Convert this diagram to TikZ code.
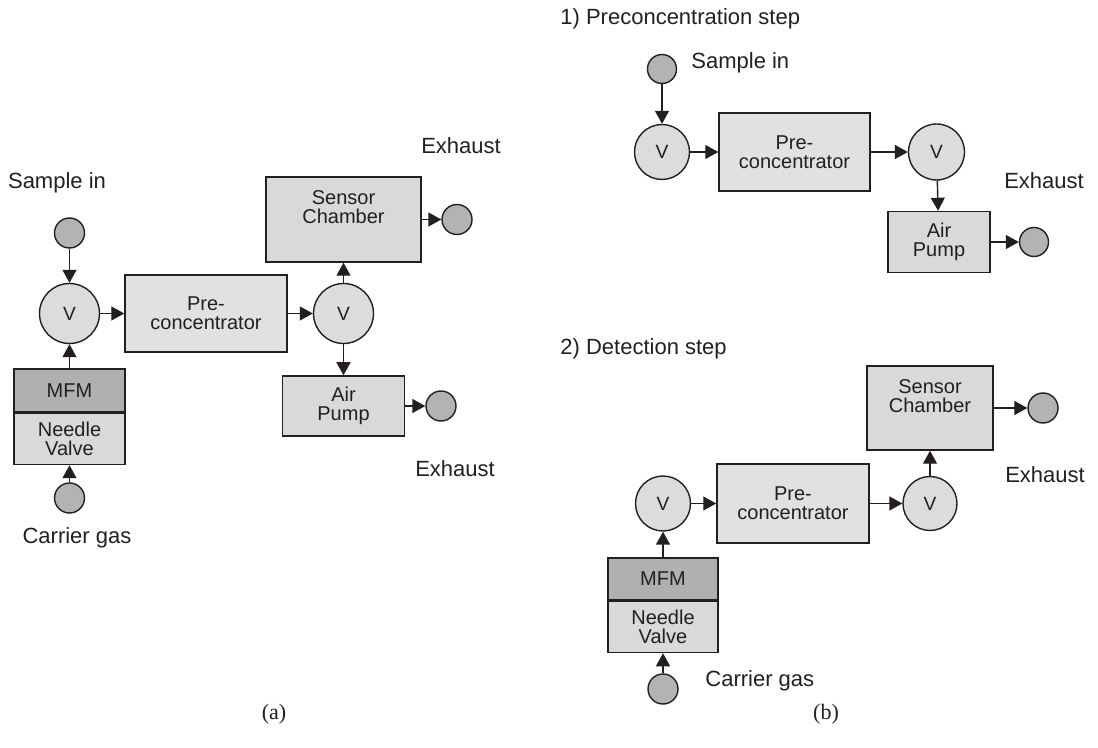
\documentclass[tikz,border=0pt]{standalone}
\usepackage{fontspec}
\setmainfont{Liberation Sans}
\newfontfamily\capfont{Liberation Serif}
\usepackage{tikz}
\usetikzlibrary{arrows.meta}

\definecolor{inkgray}{HTML}{231F20}
\definecolor{lightbox}{HTML}{E1E1E1}
\definecolor{unitbox}{HTML}{D9D9D9}
\definecolor{mfmgray}{HTML}{B0B0B0}
\definecolor{portgray}{HTML}{B3B3B3}
\definecolor{valvegray}{HTML}{DCDCDC}

\tikzset{
	box/.style={draw=inkgray, line width=0.75pt, fill=lightbox, align=center, inner sep=0pt, text=inkgray, font=\fontsize{10}{9.4}\selectfont},
	unit/.style={box, fill=unitbox},
	mfmbox/.style={box, fill=mfmgray},
	valve/.style={circle, draw=inkgray, line width=0.7pt, fill=valvegray, inner sep=0pt, minimum size=30pt, text=inkgray, font=\fontsize{9.6}{10}\selectfont},
	port/.style={circle, draw=inkgray, line width=0.7pt, fill=portgray, inner sep=0pt, minimum size=15pt},
	flow/.style={-{Triangle[length=6.5pt,width=7pt]}, draw=inkgray, line width=0.7pt},
	lbl/.style={text=inkgray, inner sep=0pt, font=\fontsize{11}{13}\selectfont}
}

\begin{document}
\begin{tikzpicture}[x=0.5pt, y=-0.5pt]
	\useasboundingbox (0,0) rectangle (1098,748);
	% (a) combined set-up
	\node[port] (sin1) at (69.5,233) {};
	\node[valve] (v1) at (69.5,313.5) {V};
	\node[box, minimum width=81pt, minimum height=38.5pt] (pre1) at (206,313.5) {Pre-\\concentrator};
	\node[valve] (v2) at (343.5,313.5) {V};
	\node[unit, minimum width=77.5pt, minimum height=42.5pt, text depth=12.5pt] (sens1) at (343.5,219.5) {Sensor\\Chamber};
	\node[port] (ex1) at (457,219.5) {};
	\node[unit, minimum width=61pt, minimum height=30pt] (pump1) at (343.5,406) {Air\\Pump};
	\node[port] (ex2) at (441,406) {};
	\node[mfmbox, minimum width=55.5pt, minimum height=21.5pt] (mfm1) at (69.5,390.5) {MFM};
	\node[unit, anchor=north, minimum width=55.5pt, minimum height=25.5pt] (nv1) at (mfm1.south) {Needle\\Valve};
	\node[port] (car1) at (69.5,498) {};
	\draw[flow] (sin1) -- (v1);
	\draw[flow] (mfm1) -- (v1);
	\draw[flow] (car1) -- (nv1);
	\draw[flow] (v1) -- (pre1);
	\draw[flow] (pre1) -- (v2);
	\draw[flow] (v2) -- (sens1);
	\draw[flow] (v2) -- (pump1);
	\draw[flow] (sens1) -- (ex1);
	\draw[flow] (pump1) -- (ex2);
	\node[lbl] (tsin1) at (57,183) {Sample in};
	\node[lbl] (tcar1) at (77,538) {Carrier gas};
	\node[lbl] (tex1) at (461,146) {Exhaust};
	\node[lbl] (tex2) at (455,469) {Exhaust};
	\node[lbl, font=\capfont\fontsize{11}{13}\selectfont] (capa) at (274,714) {(a)};

	% (b) 1) preconcentration step
	\node[lbl, anchor=west] (step1) at (560,19) {1) Preconcentration step};
	\node[port, minimum size=14.5pt] (sin2) at (662,69) {};
	\node[lbl, anchor=west] (tsin2) at (691,63) {Sample in};
	\node[valve, minimum size=27.5pt] (v3) at (662,152) {V};
	\node[box, minimum width=75.5pt, minimum height=39pt] (pre2) at (794.5,152) {Pre-\\concentrator};
	\node[valve, minimum size=28pt] (v4) at (936.5,152) {V};
	\node[unit, minimum width=51pt, minimum height=30.5pt] (pump2) at (939,242) {Air\\Pump};
	\node[port, minimum size=14.5pt] (ex3) at (1034,242) {};
	\node[lbl] (tex3) at (1044,181) {Exhaust};
	\draw[flow] (sin2) -- (v3);
	\draw[flow] (v3) -- (pre2);
	\draw[flow] (pre2) -- (v4);
	\draw[flow] (v4) -- (pump2);
	\draw[flow] (pump2) -- (ex3);

	% (b) 2) detection step
	\node[lbl, anchor=west] (step2) at (560,349) {2) Detection step};
	\node[unit, minimum width=63pt, minimum height=42pt, text depth=12pt] (sens2) at (930,408) {Sensor\\Chamber};
	\node[port] (ex4) at (1043,408) {};
	\node[lbl] (tex4) at (1045,475) {Exhaust};
	\node[valve, minimum size=27.5pt] (v5) at (663,503.5) {V};
	\node[box, minimum width=76pt, minimum height=39.5pt] (pre3) at (793,503.5) {Pre-\\concentrator};
	\node[valve, minimum size=27pt] (v6) at (930,503.5) {V};
	\node[mfmbox, minimum width=55pt, minimum height=21pt] (mfm2) at (663,579) {MFM};
	\node[unit, anchor=north, minimum width=55pt, minimum height=25.5pt] (nv2) at (mfm2.south) {Needle\\Valve};
	\node[port] (car2) at (663,689) {};
	\node[lbl, anchor=west] (tcar2) at (705,681) {Carrier gas};
	\node[lbl, font=\capfont\fontsize{11}{13}\selectfont] (capb) at (826,714) {(b)};
	\draw[flow] (car2) -- (nv2);
	\draw[flow] (mfm2) -- (v5);
	\draw[flow] (v5) -- (pre3);
	\draw[flow] (pre3) -- (v6);
	\draw[flow] (v6) -- (sens2);
	\draw[flow] (sens2) -- (ex4);
\end{tikzpicture}
\end{document}
